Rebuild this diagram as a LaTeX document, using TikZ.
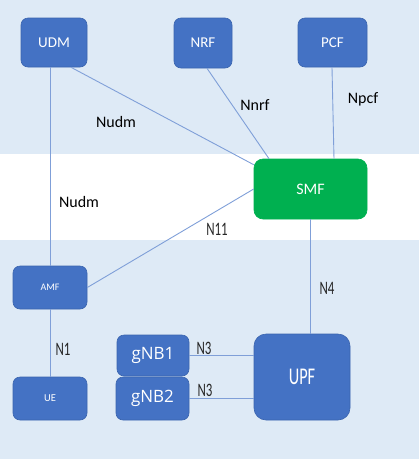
\documentclass[tikz,border=0pt]{standalone}
\usepackage{fontspec}
\setmainfont{Carlito}
\newfontfamily\narrowfont{Carlito}[FakeStretch=0.68]
\newfontfamily\gnbfont{Open Sans}
\usetikzlibrary{calc}
\definecolor{boxblue}{HTML}{4472C4}
\definecolor{boxedge}{HTML}{3A64AE}
\definecolor{smfgreen}{HTML}{00B050}
\definecolor{band}{HTML}{DEEAF6}
\definecolor{wire}{HTML}{7F9FD8}
\begin{document}
\begin{tikzpicture}[x=1pt, y=-1pt,
    function/.style ={rounded corners=7pt, fill=boxblue, draw=boxedge, line width=0.6pt, text=white, inner sep=0pt},
    interface/.style ={font=\fontsize{16}{18}\selectfont, text=black},
    narrowlabel/.style ={font=\narrowfont\fontsize{19}{21}\selectfont, text=black!85},
    link/.style ={draw=wire, line width=0.9pt}]
   \useasboundingbox (0,0) rectangle (419,459);
   \fill[band] (0,0) rectangle (419,154);
   \fill[band] (0,240) rectangle (419,459);

   \node[function, minimum width=66pt, minimum height=49pt, font=\fontsize{15}{17}\selectfont] (UDM) at (54,42.5) {UDM};
   \node[function, minimum width=58pt, minimum height=50pt, font=\fontsize{15}{17}\selectfont] (NRF) at (203,43) {NRF};
   \node[function, minimum width=69pt, minimum height=49pt, font=\fontsize{15}{17}\selectfont] (PCF) at (332.5,42.5) {PCF};
   \node[function, minimum width=113pt, minimum height=60pt, rounded corners=9pt, fill=smfgreen, draw=smfgreen, font=\fontsize{16}{18}\selectfont] (SMF) at (310.5,189) {SMF};
   \node[function, minimum width=74pt, minimum height=43pt, font=\fontsize{10}{12}\selectfont] (AMF) at (50,287.5) {AMF};
   \node[function, minimum width=74pt, minimum height=43pt, font=\fontsize{10.5}{12}\selectfont] (UE) at (50,398.5) {UE};
   \node[function, minimum width=72pt, minimum height=41pt, font=\gnbfont\fontsize{17}{19}\selectfont] (gNB1) at (153,355.5) {gNB1};
   \node[function, minimum width=73pt, minimum height=43pt, font=\gnbfont\fontsize{17}{19}\selectfont] (gNB2) at (152.5,398.5) {gNB2};
   \node[function, minimum width=96pt, minimum height=86pt, rounded corners=12pt, font=\narrowfont\fontsize{24}{26}\selectfont] (UPF) at (302,377) {UPF};

   \draw[link] (AMF.north) -- (AMF.north |- UDM.south);
   \draw[link] ($(UDM.south)+(17,0)$) -- ($(SMF.north west)+(0,6)$);
   \draw[link] ($(NRF.south)+(4,0)$) -- ($(SMF.north)+(-41.5,0)$);
   \draw[link] ($(PCF.south)+(-0.5,0)$) -- ($(SMF.north)+(23.5,0)$);
   \draw[link] (SMF.west) -- (AMF.east);
   \draw[link] (SMF.south) -- (SMF.south |- UPF.north);
   \draw[link] (AMF.south) -- (UE.north);
   \draw[link] (gNB1.east) -- (gNB1.east -| UPF.west);
   \draw[link] (gNB2.east) -- (gNB2.east -| UPF.west);

   \node[interface] (nudmtop) at (116,122) {Nudm};
   \node[interface] (nnrf) at (255,105) {Nnrf};
   \node[interface] (npcf) at (363,99) {Npcf};
   \node[interface] (nudmamf) at (79,202) {Nudm};
   \node[narrowlabel] (n11) at (217,229) {N11};
   \node[narrowlabel] (n4) at (327,288) {N4};
   \node[narrowlabel] (n1) at (63,349) {N1};
   \node[narrowlabel] (n3one) at (204,348) {N3};
   \node[narrowlabel] (n3two) at (205,390) {N3};
 \end{tikzpicture}
\end{document}
